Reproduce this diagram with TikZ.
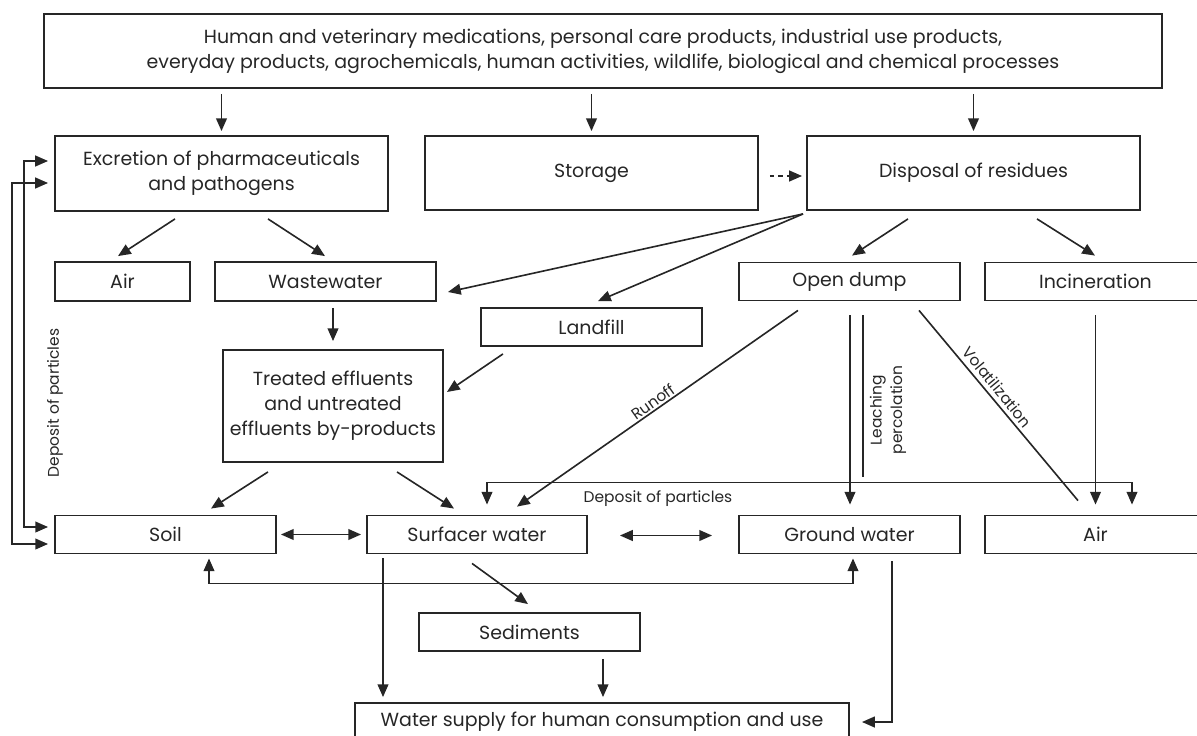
\documentclass[tikz,border=0pt]{standalone}
\usepackage{fontspec}
\setmainfont{Poppins}
\usetikzlibrary{arrows.meta,calc}
\definecolor{ink}{HTML}{262626}

\begin{document}
\begin{tikzpicture}[x=0.025cm,y=-0.025cm,>={Triangle[length=0.32cm,width=0.27cm]},
    box/.style={draw=ink,line width=1.3pt,inner sep=2pt,align=center,text=ink,font=\fontsize{13.5}{17.8}\selectfont},
    con/.style={draw=ink,line width=1.15pt},
    lbl/.style={text=ink,inner sep=1pt,align=center,font=\fontsize{11}{14.5}\selectfont}]
    \useasboundingbox (0,0) rectangle (1197,736);
    \clip (0,0) rectangle (1197,736);

    \node[box,minimum width=27.95cm,minimum height=1.85cm] (src) at (603,51) {Human and veterinary medications, personal care products, industrial use products,\\everyday products, agrochemicals, human activities, wildlife, biological and chemical processes};
    \node[box,minimum width=8.325cm,minimum height=1.875cm] (excr) at (221.5,173.5) {Excretion of pharmaceuticals\\and pathogens};
    \node[box,minimum width=8.325cm,minimum height=1.85cm] (stor) at (591.5,173) {Storage};
    \node[box,minimum width=8.325cm,minimum height=1.85cm] (disp) at (973.5,173) {Disposal of residues};
    \node[box,minimum width=3.375cm,minimum height=0.975cm] (airA) at (122.5,281.5) {Air};
    \node[box,minimum width=5.525cm,minimum height=0.975cm] (wast) at (325.5,281.5) {Wastewater};
    \node[box,minimum width=5.525cm,minimum height=0.95cm] (dump) at (849.5,281.5) {Open dump};
    \node[box,minimum width=5.525cm,minimum height=0.95cm] (inci) at (1095.5,281.5) {Incineration};
    \node[box,minimum width=5.525cm,minimum height=0.95cm] (land) at (591.5,327) {Landfill};
    \node[box,minimum width=5.5cm,minimum height=2.8cm] (trea) at (333,406) {Treated effluents\\and untreated\\effluents by-products};
    \node[box,minimum width=5.525cm,minimum height=0.95cm] (soil) at (165.5,534.5) {Soil};
    \node[box,minimum width=5.5cm,minimum height=0.95cm] (surf) at (477,534.5) {Surfacer water};
    \node[box,minimum width=5.525cm,minimum height=0.95cm] (grnd) at (849.5,534.5) {Ground water};
    \node[box,minimum width=5.525cm,minimum height=0.95cm] (airB) at (1095.5,534.5) {Air};
    \node[box,minimum width=5.525cm,minimum height=0.95cm] (sedi) at (529.5,632) {Sediments};
    \node[box,minimum width=12.35cm,minimum height=0.95cm] (wsup) at (602,722) {Water supply for human consumption and use};

    \draw[con,->] ($(src.south -| excr.north)+(0,5)$) -- ($(excr.north)+(0,-4)$);
    \draw[con,->] ($(src.south -| stor.north)+(0,5)$) -- ($(stor.north)+(0,-4)$);
    \draw[con,->] ($(src.south -| disp.north)+(0,5)$) -- ($(disp.north)+(0,-4)$);
    \draw[con,->,dashed] ($(stor.east)+(11,3)$) -- ($(disp.west)+(-4,3)$);

    \draw[con,->] ($(excr.south)+(-46.5,7)$) -- ($(airA.north)+(-4.5,-5)$);
    \draw[con,->] ($(excr.south)+(46.5,7)$) -- ($(wast.north)+(-0.5,-5)$);
    \coordinate (dsw) at ($(disp.south west)+(-3,3)$);
    \draw[con,->] (dsw) -- ($(wast.east)+(11,10.5)$);
    \draw[con,->] (dsw) -- ($(land.north)+(6.5,-6)$);
    \draw[con,->] ($(disp.south)+(-65.5,8)$) -- ($(dump.north)+(2.5,-6)$);
    \draw[con,->] ($(disp.south)+(63.5,8)$) -- ($(inci.north)+(-0.5,-6)$);

    \draw[con,->] ($(wast.south -| trea.north)+(0,6)$) -- ($(trea.north)+(0,-8)$);
    \draw[con,->] ($(land.south)+(-88.5,7)$) -- ($(trea.east)+(3,-14)$);
    \draw[con,->] ($(trea.south)+(-65,9)$) -- ($(soil.north)+(45.5,-6)$);
    \draw[con,->] ($(trea.south)+(64,9)$) -- ($(surf.north)+(-23,-6)$);

    \draw[con,->] ($(dump.south)+(-51.5,9)$) -- node[lbl,pos=0.5,rotate=35.3,anchor=south] (runoff) {Runoff} ($(surf.north)+(40,-8)$);
    \draw[con,->] ($(dump.south)+(0.5,14)$) -- ($(grnd.north)+(0.5,-10)$);
    \draw[con] ($(dump.south)+(13.5,14)$) -- ($(grnd.north)+(13.5,-38)$);
    \node[lbl,rotate=90] (leach) at (888,410) {Leaching\\percolation};
    \draw[con] ($(dump.south)+(69.5,9)$) -- node[lbl,pos=0.44,rotate=-50.5,anchor=south,yshift=2pt] (volat) {Volatilization} ($(airB.north)+(-17.5,-14)$);
    \draw[con,->] ($(inci.south)+(0,14)$) -- ($(airB.north)+(0,-10)$);
    \draw[con,<->] ($(surf.north)+(10,-10)$) -- ++(0,-22) -| ($(airB.north)+(36.5,-10)$);
    \node[lbl] (dep) at (658,499) {Deposit of particles};

    \draw[con,<->] ($(soil.east)+(4,0)$) -- ($(surf.west)+(-5,0)$);
    \draw[con,<->] ($(surf.east)+(32,1)$) -- ($(grnd.west)+(-26,1)$);
    \draw[con,<->] ($(soil.south)+(43.5,4)$) -- ++(0,25) -| ($(grnd.south)+(3.5,4)$);
    \draw[con,->] ($(surf.south)+(-5,9)$) -- ($(sedi.north)+(-1.5,-8)$);
    \draw[con,->] ($(surf.south)+(-94,4)$) -- ($(wsup.north -| surf.south)+(-94,-5)$);
    \draw[con,->] ($(sedi.south)+(73.5,7)$) -- ($(wsup.north -| sedi.south)+(73.5,-5)$);
    \draw[con,->] ($(grnd.south)+(42.5,7)$) |- ($(wsup.east)+(12,0)$);

    \draw[con,<->] ($(excr.west)+(-6,-12.5)$) -- ++(-24,0) |- ($(soil.west)+(-6,-7.5)$);
    \draw[con,<->] ($(excr.west)+(-6,9.5)$) -- ++(-36,0) |- ($(soil.west)+(-6,9.5)$);
    \node[lbl,rotate=90] (depl) at (55,403) {Deposit of particles};
\end{tikzpicture}
\end{document}
